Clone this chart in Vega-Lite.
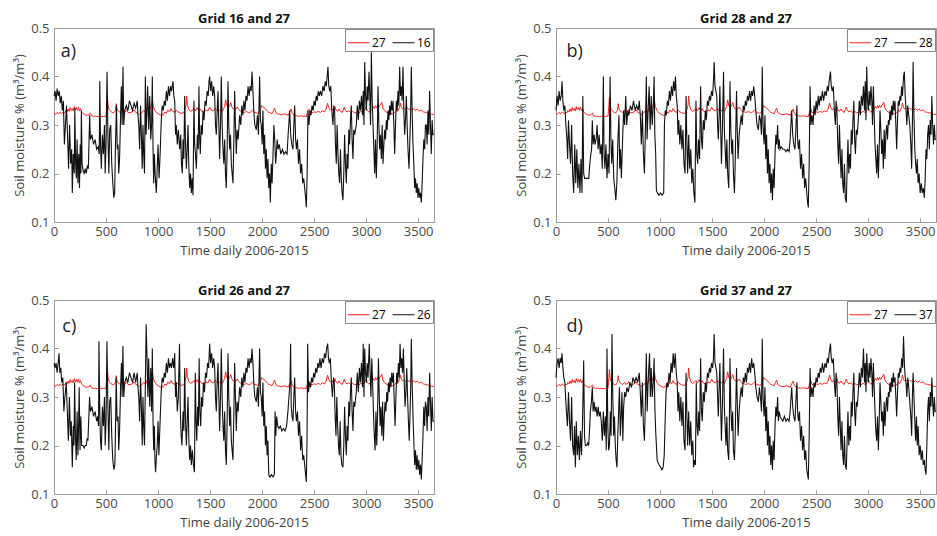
{
"$schema": "https://vega.github.io/schema/vega-lite/v6.json",
"padding": {"left": 13, "top": 12, "right": 0, "bottom": 0},
"config": {
 "font": "Open Sans",
 "view": {"stroke": "#9a9a9a"},
 "axis": {"grid": false, "domainColor": "#9a9a9a", "tickColor": "#9a9a9a", "tickSize": -4, "labelColor": "#4a4a4a", "labelFontSize": 13, "titleColor": "#404040", "titleFontSize": 13, "titleFontWeight": "normal", "labelFont": "Open Sans", "titleFont": "Open Sans"},
 "axisX": {"labelFlush": false, "labelPadding": 7, "titlePadding": 6, "format": "d"},
 "axisY": {"labelPadding": 9, "titlePadding": 4},
 "title": {"fontSize": 13, "fontWeight": "bold", "color": "#111111", "offset": -4, "font": "Open Sans"},
 "legend": {"title": null, "orient": "top-right", "direction": "horizontal", "symbolType": "stroke", "symbolSize": 480, "symbolStrokeWidth": 1, "labelFontSize": 12, "labelColor": "#000000", "strokeColor": "#888888", "fillColor": "#ffffff", "padding": 2, "offset": 1, "columnPadding": 4, "labelOffset": 2}
},
"datasets": {
"red": [{"t":0,"v":0.324},{"t":15,"v":0.322},{"t":30,"v":0.326},{"t":45,"v":0.323},{"t":60,"v":0.327},{"t":75,"v":0.324},{"t":90,"v":0.326},{"t":105,"v":0.325},{"t":115,"v":0.33},{"t":125,"v":0.327},{"t":135,"v":0.333},{"t":145,"v":0.328},{"t":155,"v":0.336},{"t":165,"v":0.33},{"t":175,"v":0.334},{"t":185,"v":0.329},{"t":195,"v":0.338},{"t":205,"v":0.331},{"t":215,"v":0.336},{"t":225,"v":0.33},{"t":235,"v":0.337},{"t":245,"v":0.329},{"t":255,"v":0.334},{"t":265,"v":0.327},{"t":280,"v":0.324},{"t":300,"v":0.321},{"t":320,"v":0.32},{"t":340,"v":0.322},{"t":350,"v":0.325},{"t":360,"v":0.319},{"t":380,"v":0.318},{"t":400,"v":0.318},{"t":420,"v":0.317},{"t":440,"v":0.318},{"t":460,"v":0.317},{"t":480,"v":0.318},{"t":500,"v":0.318},{"t":508,"v":0.34},{"t":513,"v":0.357},{"t":520,"v":0.34},{"t":530,"v":0.332},{"t":545,"v":0.328},{"t":560,"v":0.326},{"t":575,"v":0.325},{"t":590,"v":0.33},{"t":598,"v":0.344},{"t":606,"v":0.333},{"t":620,"v":0.328},{"t":640,"v":0.326},{"t":660,"v":0.33},{"t":670,"v":0.326},{"t":690,"v":0.328},{"t":700,"v":0.332},{"t":710,"v":0.326},{"t":730,"v":0.325},{"t":750,"v":0.327},{"t":770,"v":0.331},{"t":785,"v":0.326},{"t":800,"v":0.325},{"t":820,"v":0.322},{"t":840,"v":0.324},{"t":860,"v":0.33},{"t":880,"v":0.326},{"t":900,"v":0.338},{"t":910,"v":0.332},{"t":925,"v":0.334},{"t":940,"v":0.345},{"t":946,"v":0.351},{"t":955,"v":0.338},{"t":970,"v":0.33},{"t":990,"v":0.325},{"t":1010,"v":0.322},{"t":1030,"v":0.32},{"t":1050,"v":0.321},{"t":1065,"v":0.327},{"t":1080,"v":0.324},{"t":1095,"v":0.331},{"t":1110,"v":0.327},{"t":1125,"v":0.334},{"t":1140,"v":0.328},{"t":1160,"v":0.326},{"t":1175,"v":0.331},{"t":1190,"v":0.327},{"t":1210,"v":0.325},{"t":1230,"v":0.324},{"t":1250,"v":0.326},{"t":1268,"v":0.34},{"t":1275,"v":0.36},{"t":1282,"v":0.342},{"t":1295,"v":0.332},{"t":1310,"v":0.328},{"t":1330,"v":0.33},{"t":1345,"v":0.334},{"t":1360,"v":0.329},{"t":1375,"v":0.336},{"t":1390,"v":0.33},{"t":1405,"v":0.333},{"t":1420,"v":0.328},{"t":1440,"v":0.327},{"t":1460,"v":0.331},{"t":1480,"v":0.329},{"t":1496,"v":0.337},{"t":1510,"v":0.331},{"t":1530,"v":0.329},{"t":1550,"v":0.334},{"t":1565,"v":0.33},{"t":1580,"v":0.328},{"t":1600,"v":0.331},{"t":1620,"v":0.329},{"t":1640,"v":0.338},{"t":1650,"v":0.352},{"t":1660,"v":0.34},{"t":1675,"v":0.336},{"t":1690,"v":0.341},{"t":1700,"v":0.346},{"t":1710,"v":0.337},{"t":1725,"v":0.333},{"t":1740,"v":0.331},{"t":1760,"v":0.337},{"t":1775,"v":0.332},{"t":1790,"v":0.329},{"t":1810,"v":0.327},{"t":1830,"v":0.326},{"t":1850,"v":0.328},{"t":1870,"v":0.325},{"t":1890,"v":0.327},{"t":1910,"v":0.331},{"t":1925,"v":0.326},{"t":1945,"v":0.325},{"t":1965,"v":0.324},{"t":1985,"v":0.333},{"t":1995,"v":0.34},{"t":2005,"v":0.338},{"t":2020,"v":0.336},{"t":2035,"v":0.332},{"t":2050,"v":0.329},{"t":2065,"v":0.326},{"t":2080,"v":0.325},{"t":2095,"v":0.323},{"t":2110,"v":0.33},{"t":2120,"v":0.335},{"t":2130,"v":0.326},{"t":2150,"v":0.323},{"t":2170,"v":0.322},{"t":2190,"v":0.321},{"t":2210,"v":0.323},{"t":2230,"v":0.322},{"t":2250,"v":0.32},{"t":2270,"v":0.329},{"t":2280,"v":0.333},{"t":2290,"v":0.324},{"t":2310,"v":0.32},{"t":2330,"v":0.319},{"t":2350,"v":0.318},{"t":2370,"v":0.319},{"t":2390,"v":0.318},{"t":2410,"v":0.318},{"t":2425,"v":0.317},{"t":2440,"v":0.33},{"t":2450,"v":0.333},{"t":2460,"v":0.326},{"t":2480,"v":0.325},{"t":2500,"v":0.327},{"t":2520,"v":0.326},{"t":2540,"v":0.328},{"t":2560,"v":0.326},{"t":2580,"v":0.329},{"t":2600,"v":0.327},{"t":2615,"v":0.333},{"t":2630,"v":0.345},{"t":2640,"v":0.336},{"t":2655,"v":0.331},{"t":2670,"v":0.334},{"t":2685,"v":0.329},{"t":2700,"v":0.338},{"t":2710,"v":0.331},{"t":2725,"v":0.328},{"t":2740,"v":0.333},{"t":2755,"v":0.328},{"t":2770,"v":0.326},{"t":2790,"v":0.337},{"t":2800,"v":0.33},{"t":2815,"v":0.327},{"t":2830,"v":0.329},{"t":2850,"v":0.326},{"t":2870,"v":0.328},{"t":2890,"v":0.325},{"t":2910,"v":0.327},{"t":2930,"v":0.325},{"t":2950,"v":0.328},{"t":2970,"v":0.326},{"t":2990,"v":0.333},{"t":3000,"v":0.337},{"t":3010,"v":0.33},{"t":3025,"v":0.327},{"t":3040,"v":0.328},{"t":3055,"v":0.332},{"t":3070,"v":0.338},{"t":3080,"v":0.334},{"t":3090,"v":0.34},{"t":3100,"v":0.335},{"t":3110,"v":0.341},{"t":3120,"v":0.336},{"t":3130,"v":0.34},{"t":3140,"v":0.343},{"t":3150,"v":0.347},{"t":3160,"v":0.335},{"t":3175,"v":0.33},{"t":3190,"v":0.327},{"t":3210,"v":0.325},{"t":3230,"v":0.324},{"t":3250,"v":0.323},{"t":3270,"v":0.325},{"t":3290,"v":0.33},{"t":3305,"v":0.328},{"t":3320,"v":0.336},{"t":3330,"v":0.345},{"t":3340,"v":0.336},{"t":3350,"v":0.333},{"t":3365,"v":0.335},{"t":3380,"v":0.332},{"t":3395,"v":0.335},{"t":3410,"v":0.332},{"t":3425,"v":0.334},{"t":3440,"v":0.331},{"t":3455,"v":0.334},{"t":3470,"v":0.33},{"t":3490,"v":0.333},{"t":3510,"v":0.329},{"t":3530,"v":0.331},{"t":3550,"v":0.327},{"t":3570,"v":0.326},{"t":3590,"v":0.325},{"t":3610,"v":0.324},{"t":3630,"v":0.322},{"t":3652,"v":0.322}],
"g16": [{"t":0,"v":0.36},{"t":10,"v":0.37},{"t":20,"v":0.35},{"t":30,"v":0.375},{"t":40,"v":0.36},{"t":50,"v":0.37},{"t":60,"v":0.345},{"t":70,"v":0.36},{"t":80,"v":0.33},{"t":90,"v":0.35},{"t":100,"v":0.26},{"t":110,"v":0.30},{"t":120,"v":0.34},{"t":130,"v":0.28},{"t":140,"v":0.21},{"t":150,"v":0.30},{"t":160,"v":0.22},{"t":170,"v":0.25},{"t":176,"v":0.16},{"t":185,"v":0.24},{"t":195,"v":0.20},{"t":200,"v":0.335},{"t":208,"v":0.22},{"t":215,"v":0.19},{"t":222,"v":0.27},{"t":230,"v":0.18},{"t":238,"v":0.24},{"t":245,"v":0.17},{"t":252,"v":0.26},{"t":258,"v":0.20},{"t":263,"v":0.33},{"t":270,"v":0.22},{"t":280,"v":0.205},{"t":290,"v":0.20},{"t":300,"v":0.21},{"t":310,"v":0.20},{"t":320,"v":0.215},{"t":330,"v":0.21},{"t":343,"v":0.32},{"t":350,"v":0.27},{"t":365,"v":0.28},{"t":380,"v":0.26},{"t":395,"v":0.27},{"t":410,"v":0.25},{"t":425,"v":0.255},{"t":435,"v":0.24},{"t":440,"v":0.39},{"t":447,"v":0.26},{"t":455,"v":0.21},{"t":465,"v":0.28},{"t":475,"v":0.24},{"t":485,"v":0.30},{"t":492,"v":0.20},{"t":500,"v":0.26},{"t":510,"v":0.41},{"t":518,"v":0.28},{"t":527,"v":0.20},{"t":535,"v":0.29},{"t":545,"v":0.30},{"t":555,"v":0.22},{"t":565,"v":0.18},{"t":575,"v":0.15},{"t":583,"v":0.16},{"t":590,"v":0.25},{"t":600,"v":0.34},{"t":608,"v":0.25},{"t":615,"v":0.26},{"t":622,"v":0.20},{"t":630,"v":0.23},{"t":640,"v":0.32},{"t":647,"v":0.38},{"t":655,"v":0.30},{"t":663,"v":0.42},{"t":670,"v":0.30},{"t":680,"v":0.33},{"t":695,"v":0.34},{"t":710,"v":0.33},{"t":725,"v":0.35},{"t":740,"v":0.34},{"t":755,"v":0.33},{"t":770,"v":0.345},{"t":785,"v":0.335},{"t":800,"v":0.35},{"t":807,"v":0.32},{"t":815,"v":0.30},{"t":823,"v":0.25},{"t":832,"v":0.34},{"t":840,"v":0.28},{"t":848,"v":0.21},{"t":855,"v":0.30},{"t":862,"v":0.24},{"t":870,"v":0.20},{"t":878,"v":0.40},{"t":885,"v":0.28},{"t":893,"v":0.33},{"t":900,"v":0.38},{"t":910,"v":0.29},{"t":920,"v":0.36},{"t":930,"v":0.27},{"t":938,"v":0.30},{"t":945,"v":0.40},{"t":952,"v":0.25},{"t":958,"v":0.18},{"t":965,"v":0.24},{"t":972,"v":0.20},{"t":983,"v":0.16},{"t":992,"v":0.21},{"t":1000,"v":0.26},{"t":1010,"v":0.19},{"t":1020,"v":0.24},{"t":1031,"v":0.31},{"t":1040,"v":0.34},{"t":1050,"v":0.33},{"t":1060,"v":0.35},{"t":1070,"v":0.34},{"t":1080,"v":0.37},{"t":1090,"v":0.35},{"t":1100,"v":0.38},{"t":1110,"v":0.36},{"t":1120,"v":0.38},{"t":1130,"v":0.37},{"t":1143,"v":0.39},{"t":1152,"v":0.36},{"t":1160,"v":0.35},{"t":1168,"v":0.28},{"t":1175,"v":0.30},{"t":1185,"v":0.26},{"t":1195,"v":0.29},{"t":1208,"v":0.25},{"t":1218,"v":0.28},{"t":1225,"v":0.22},{"t":1233,"v":0.20},{"t":1240,"v":0.27},{"t":1248,"v":0.23},{"t":1256,"v":0.36},{"t":1264,"v":0.26},{"t":1272,"v":0.21},{"t":1280,"v":0.25},{"t":1288,"v":0.30},{"t":1295,"v":0.22},{"t":1304,"v":0.17},{"t":1312,"v":0.20},{"t":1320,"v":0.16},{"t":1328,"v":0.19},{"t":1336,"v":0.155},{"t":1345,"v":0.35},{"t":1352,"v":0.26},{"t":1360,"v":0.24},{"t":1368,"v":0.21},{"t":1378,"v":0.28},{"t":1386,"v":0.25},{"t":1393,"v":0.38},{"t":1400,"v":0.27},{"t":1406,"v":0.24},{"t":1415,"v":0.30},{"t":1425,"v":0.28},{"t":1432,"v":0.33},{"t":1442,"v":0.31},{"t":1452,"v":0.35},{"t":1462,"v":0.34},{"t":1472,"v":0.37},{"t":1482,"v":0.36},{"t":1490,"v":0.39},{"t":1496,"v":0.40},{"t":1505,"v":0.37},{"t":1515,"v":0.39},{"t":1525,"v":0.36},{"t":1535,"v":0.38},{"t":1544,"v":0.36},{"t":1552,"v":0.30},{"t":1560,"v":0.28},{"t":1568,"v":0.33},{"t":1576,"v":0.37},{"t":1584,"v":0.30},{"t":1592,"v":0.23},{"t":1600,"v":0.30},{"t":1608,"v":0.40},{"t":1616,"v":0.30},{"t":1624,"v":0.25},{"t":1632,"v":0.22},{"t":1640,"v":0.27},{"t":1648,"v":0.20},{"t":1656,"v":0.17},{"t":1664,"v":0.25},{"t":1672,"v":0.39},{"t":1680,"v":0.30},{"t":1688,"v":0.25},{"t":1696,"v":0.28},{"t":1704,"v":0.22},{"t":1712,"v":0.20},{"t":1720,"v":0.18},{"t":1728,"v":0.26},{"t":1736,"v":0.37},{"t":1744,"v":0.30},{"t":1752,"v":0.24},{"t":1760,"v":0.29},{"t":1770,"v":0.27},{"t":1784,"v":0.32},{"t":1795,"v":0.30},{"t":1805,"v":0.34},{"t":1815,"v":0.32},{"t":1825,"v":0.35},{"t":1835,"v":0.33},{"t":1845,"v":0.36},{"t":1855,"v":0.35},{"t":1865,"v":0.38},{"t":1875,"v":0.36},{"t":1885,"v":0.38},{"t":1895,"v":0.37},{"t":1903,"v":0.41},{"t":1912,"v":0.37},{"t":1920,"v":0.33},{"t":1930,"v":0.30},{"t":1944,"v":0.29},{"t":1955,"v":0.32},{"t":1965,"v":0.28},{"t":1976,"v":0.40},{"t":1984,"v":0.31},{"t":1992,"v":0.30},{"t":2000,"v":0.26},{"t":2008,"v":0.33},{"t":2016,"v":0.24},{"t":2024,"v":0.28},{"t":2032,"v":0.21},{"t":2040,"v":0.25},{"t":2048,"v":0.19},{"t":2056,"v":0.23},{"t":2064,"v":0.17},{"t":2072,"v":0.20},{"t":2079,"v":0.14},{"t":2088,"v":0.22},{"t":2096,"v":0.18},{"t":2105,"v":0.24},{"t":2113,"v":0.30},{"t":2121,"v":0.27},{"t":2130,"v":0.22},{"t":2137,"v":0.24},{"t":2145,"v":0.27},{"t":2153,"v":0.25},{"t":2165,"v":0.26},{"t":2180,"v":0.24},{"t":2195,"v":0.25},{"t":2210,"v":0.24},{"t":2225,"v":0.245},{"t":2240,"v":0.24},{"t":2250,"v":0.28},{"t":2265,"v":0.33},{"t":2275,"v":0.28},{"t":2285,"v":0.26},{"t":2297,"v":0.25},{"t":2305,"v":0.30},{"t":2313,"v":0.34},{"t":2322,"v":0.27},{"t":2330,"v":0.25},{"t":2340,"v":0.27},{"t":2350,"v":0.22},{"t":2360,"v":0.25},{"t":2370,"v":0.20},{"t":2380,"v":0.22},{"t":2390,"v":0.18},{"t":2400,"v":0.19},{"t":2409,"v":0.17},{"t":2418,"v":0.15},{"t":2425,"v":0.13},{"t":2433,"v":0.20},{"t":2441,"v":0.33},{"t":2450,"v":0.30},{"t":2460,"v":0.33},{"t":2470,"v":0.32},{"t":2480,"v":0.34},{"t":2490,"v":0.33},{"t":2500,"v":0.35},{"t":2510,"v":0.34},{"t":2520,"v":0.36},{"t":2530,"v":0.35},{"t":2540,"v":0.37},{"t":2550,"v":0.36},{"t":2560,"v":0.37},{"t":2572,"v":0.36},{"t":2585,"v":0.38},{"t":2597,"v":0.37},{"t":2607,"v":0.39},{"t":2617,"v":0.38},{"t":2625,"v":0.40},{"t":2633,"v":0.42},{"t":2641,"v":0.38},{"t":2650,"v":0.37},{"t":2660,"v":0.38},{"t":2670,"v":0.33},{"t":2681,"v":0.30},{"t":2689,"v":0.34},{"t":2697,"v":0.33},{"t":2705,"v":0.26},{"t":2713,"v":0.22},{"t":2721,"v":0.30},{"t":2729,"v":0.24},{"t":2737,"v":0.20},{"t":2745,"v":0.18},{"t":2753,"v":0.25},{"t":2761,"v":0.19},{"t":2769,"v":0.16},{"t":2777,"v":0.145},{"t":2785,"v":0.20},{"t":2793,"v":0.28},{"t":2801,"v":0.22},{"t":2809,"v":0.18},{"t":2817,"v":0.24},{"t":2825,"v":0.21},{"t":2833,"v":0.29},{"t":2841,"v":0.26},{"t":2849,"v":0.31},{"t":2857,"v":0.34},{"t":2865,"v":0.27},{"t":2873,"v":0.23},{"t":2881,"v":0.29},{"t":2890,"v":0.28},{"t":2905,"v":0.30},{"t":2915,"v":0.34},{"t":2925,"v":0.31},{"t":2935,"v":0.35},{"t":2945,"v":0.33},{"t":2955,"v":0.36},{"t":2965,"v":0.32},{"t":2972,"v":0.37},{"t":2979,"v":0.30},{"t":2986,"v":0.43},{"t":2994,"v":0.36},{"t":3002,"v":0.33},{"t":3010,"v":0.38},{"t":3018,"v":0.35},{"t":3027,"v":0.41},{"t":3035,"v":0.36},{"t":3042,"v":0.30},{"t":3050,"v":0.45},{"t":3058,"v":0.35},{"t":3066,"v":0.30},{"t":3074,"v":0.25},{"t":3082,"v":0.20},{"t":3090,"v":0.27},{"t":3098,"v":0.19},{"t":3106,"v":0.26},{"t":3114,"v":0.38},{"t":3122,"v":0.30},{"t":3130,"v":0.25},{"t":3138,"v":0.28},{"t":3146,"v":0.23},{"t":3154,"v":0.30},{"t":3162,"v":0.22},{"t":3170,"v":0.26},{"t":3178,"v":0.29},{"t":3186,"v":0.27},{"t":3194,"v":0.31},{"t":3202,"v":0.29},{"t":3210,"v":0.33},{"t":3218,"v":0.31},{"t":3226,"v":0.34},{"t":3234,"v":0.32},{"t":3242,"v":0.35},{"t":3250,"v":0.33},{"t":3258,"v":0.35},{"t":3266,"v":0.30},{"t":3274,"v":0.24},{"t":3282,"v":0.30},{"t":3290,"v":0.35},{"t":3298,"v":0.33},{"t":3306,"v":0.37},{"t":3314,"v":0.34},{"t":3322,"v":0.42},{"t":3330,"v":0.36},{"t":3338,"v":0.38},{"t":3346,"v":0.35},{"t":3354,"v":0.42},{"t":3362,"v":0.33},{"t":3370,"v":0.28},{"t":3378,"v":0.31},{"t":3386,"v":0.36},{"t":3394,"v":0.30},{"t":3402,"v":0.25},{"t":3412,"v":0.21},{"t":3420,"v":0.27},{"t":3427,"v":0.32},{"t":3434,"v":0.42},{"t":3442,"v":0.33},{"t":3450,"v":0.26},{"t":3458,"v":0.22},{"t":3466,"v":0.17},{"t":3474,"v":0.19},{"t":3482,"v":0.16},{"t":3490,"v":0.18},{"t":3498,"v":0.15},{"t":3506,"v":0.17},{"t":3514,"v":0.15},{"t":3522,"v":0.16},{"t":3530,"v":0.14},{"t":3538,"v":0.18},{"t":3546,"v":0.23},{"t":3554,"v":0.27},{"t":3562,"v":0.25},{"t":3570,"v":0.30},{"t":3578,"v":0.30},{"t":3586,"v":0.26},{"t":3594,"v":0.33},{"t":3602,"v":0.28},{"t":3610,"v":0.37},{"t":3618,"v":0.30},{"t":3626,"v":0.24},{"t":3634,"v":0.31},{"t":3642,"v":0.28},{"t":3652,"v":0.28}],
"g28": [{"t":0,"v":0.33},{"t":10,"v":0.36},{"t":20,"v":0.34},{"t":30,"v":0.37},{"t":40,"v":0.35},{"t":50,"v":0.36},{"t":58,"v":0.39},{"t":66,"v":0.35},{"t":75,"v":0.33},{"t":85,"v":0.34},{"t":95,"v":0.30},{"t":105,"v":0.27},{"t":112,"v":0.23},{"t":120,"v":0.31},{"t":130,"v":0.26},{"t":140,"v":0.22},{"t":150,"v":0.30},{"t":160,"v":0.20},{"t":170,"v":0.16},{"t":180,"v":0.26},{"t":190,"v":0.18},{"t":200,"v":0.25},{"t":210,"v":0.17},{"t":220,"v":0.22},{"t":230,"v":0.16},{"t":240,"v":0.23},{"t":250,"v":0.16},{"t":258,"v":0.36},{"t":266,"v":0.20},{"t":275,"v":0.19},{"t":285,"v":0.19},{"t":300,"v":0.19},{"t":315,"v":0.19},{"t":325,"v":0.22},{"t":335,"v":0.24},{"t":342,"v":0.25},{"t":349,"v":0.31},{"t":357,"v":0.26},{"t":366,"v":0.28},{"t":375,"v":0.26},{"t":385,"v":0.27},{"t":395,"v":0.30},{"t":405,"v":0.25},{"t":415,"v":0.28},{"t":425,"v":0.24},{"t":435,"v":0.26},{"t":445,"v":0.21},{"t":455,"v":0.40},{"t":462,"v":0.24},{"t":470,"v":0.21},{"t":480,"v":0.26},{"t":490,"v":0.19},{"t":500,"v":0.24},{"t":510,"v":0.20},{"t":520,"v":0.40},{"t":528,"v":0.27},{"t":535,"v":0.22},{"t":545,"v":0.27},{"t":555,"v":0.19},{"t":565,"v":0.17},{"t":575,"v":0.145},{"t":585,"v":0.18},{"t":595,"v":0.27},{"t":605,"v":0.32},{"t":612,"v":0.21},{"t":620,"v":0.25},{"t":628,"v":0.19},{"t":640,"v":0.27},{"t":650,"v":0.33},{"t":660,"v":0.30},{"t":670,"v":0.36},{"t":680,"v":0.30},{"t":690,"v":0.33},{"t":700,"v":0.32},{"t":715,"v":0.34},{"t":730,"v":0.33},{"t":745,"v":0.35},{"t":760,"v":0.33},{"t":775,"v":0.34},{"t":790,"v":0.33},{"t":800,"v":0.35},{"t":810,"v":0.32},{"t":820,"v":0.26},{"t":830,"v":0.33},{"t":840,"v":0.24},{"t":850,"v":0.20},{"t":860,"v":0.30},{"t":868,"v":0.40},{"t":875,"v":0.27},{"t":885,"v":0.33},{"t":895,"v":0.38},{"t":905,"v":0.29},{"t":915,"v":0.36},{"t":925,"v":0.30},{"t":935,"v":0.34},{"t":943,"v":0.40},{"t":950,"v":0.28},{"t":958,"v":0.24},{"t":965,"v":0.165},{"t":975,"v":0.16},{"t":990,"v":0.155},{"t":1005,"v":0.16},{"t":1020,"v":0.155},{"t":1035,"v":0.16},{"t":1042,"v":0.30},{"t":1050,"v":0.33},{"t":1060,"v":0.32},{"t":1070,"v":0.35},{"t":1080,"v":0.34},{"t":1090,"v":0.37},{"t":1100,"v":0.35},{"t":1110,"v":0.38},{"t":1120,"v":0.36},{"t":1130,"v":0.39},{"t":1140,"v":0.37},{"t":1148,"v":0.40},{"t":1156,"v":0.36},{"t":1165,"v":0.34},{"t":1172,"v":0.28},{"t":1180,"v":0.31},{"t":1190,"v":0.26},{"t":1200,"v":0.30},{"t":1210,"v":0.25},{"t":1220,"v":0.29},{"t":1230,"v":0.22},{"t":1240,"v":0.20},{"t":1250,"v":0.36},{"t":1258,"v":0.26},{"t":1265,"v":0.20},{"t":1275,"v":0.28},{"t":1285,"v":0.21},{"t":1295,"v":0.25},{"t":1305,"v":0.18},{"t":1315,"v":0.21},{"t":1325,"v":0.16},{"t":1335,"v":0.14},{"t":1345,"v":0.35},{"t":1353,"v":0.24},{"t":1362,"v":0.22},{"t":1370,"v":0.27},{"t":1380,"v":0.23},{"t":1390,"v":0.38},{"t":1398,"v":0.27},{"t":1406,"v":0.25},{"t":1415,"v":0.31},{"t":1425,"v":0.29},{"t":1435,"v":0.33},{"t":1445,"v":0.31},{"t":1455,"v":0.35},{"t":1465,"v":0.34},{"t":1475,"v":0.36},{"t":1485,"v":0.35},{"t":1495,"v":0.37},{"t":1505,"v":0.36},{"t":1513,"v":0.39},{"t":1520,"v":0.43},{"t":1528,"v":0.38},{"t":1537,"v":0.37},{"t":1545,"v":0.36},{"t":1553,"v":0.30},{"t":1560,"v":0.27},{"t":1568,"v":0.32},{"t":1575,"v":0.38},{"t":1583,"v":0.29},{"t":1590,"v":0.22},{"t":1600,"v":0.30},{"t":1610,"v":0.41},{"t":1618,"v":0.29},{"t":1626,"v":0.25},{"t":1634,"v":0.21},{"t":1642,"v":0.27},{"t":1650,"v":0.20},{"t":1660,"v":0.17},{"t":1666,"v":0.25},{"t":1672,"v":0.39},{"t":1680,"v":0.29},{"t":1690,"v":0.24},{"t":1698,"v":0.27},{"t":1705,"v":0.20},{"t":1715,"v":0.16},{"t":1722,"v":0.22},{"t":1735,"v":0.37},{"t":1742,"v":0.29},{"t":1750,"v":0.23},{"t":1760,"v":0.28},{"t":1770,"v":0.30},{"t":1780,"v":0.32},{"t":1790,"v":0.30},{"t":1800,"v":0.34},{"t":1810,"v":0.33},{"t":1820,"v":0.35},{"t":1830,"v":0.34},{"t":1840,"v":0.36},{"t":1850,"v":0.35},{"t":1860,"v":0.37},{"t":1870,"v":0.35},{"t":1880,"v":0.37},{"t":1890,"v":0.36},{"t":1900,"v":0.38},{"t":1910,"v":0.36},{"t":1920,"v":0.33},{"t":1932,"v":0.30},{"t":1945,"v":0.29},{"t":1955,"v":0.32},{"t":1965,"v":0.31},{"t":1975,"v":0.28},{"t":1982,"v":0.42},{"t":1990,"v":0.30},{"t":2000,"v":0.26},{"t":2008,"v":0.32},{"t":2016,"v":0.23},{"t":2024,"v":0.28},{"t":2032,"v":0.20},{"t":2040,"v":0.25},{"t":2048,"v":0.18},{"t":2056,"v":0.22},{"t":2064,"v":0.16},{"t":2072,"v":0.20},{"t":2080,"v":0.145},{"t":2088,"v":0.21},{"t":2096,"v":0.17},{"t":2105,"v":0.24},{"t":2113,"v":0.28},{"t":2121,"v":0.26},{"t":2130,"v":0.30},{"t":2137,"v":0.25},{"t":2145,"v":0.27},{"t":2153,"v":0.25},{"t":2165,"v":0.255},{"t":2180,"v":0.25},{"t":2195,"v":0.25},{"t":2210,"v":0.245},{"t":2225,"v":0.25},{"t":2240,"v":0.245},{"t":2250,"v":0.27},{"t":2265,"v":0.33},{"t":2275,"v":0.28},{"t":2285,"v":0.26},{"t":2297,"v":0.25},{"t":2305,"v":0.29},{"t":2315,"v":0.34},{"t":2322,"v":0.27},{"t":2330,"v":0.25},{"t":2340,"v":0.27},{"t":2350,"v":0.21},{"t":2360,"v":0.24},{"t":2370,"v":0.19},{"t":2380,"v":0.22},{"t":2390,"v":0.17},{"t":2400,"v":0.19},{"t":2410,"v":0.16},{"t":2418,"v":0.14},{"t":2425,"v":0.13},{"t":2433,"v":0.22},{"t":2442,"v":0.38},{"t":2450,"v":0.30},{"t":2460,"v":0.32},{"t":2470,"v":0.30},{"t":2480,"v":0.34},{"t":2490,"v":0.32},{"t":2500,"v":0.35},{"t":2510,"v":0.33},{"t":2520,"v":0.36},{"t":2530,"v":0.34},{"t":2540,"v":0.36},{"t":2550,"v":0.35},{"t":2560,"v":0.37},{"t":2572,"v":0.35},{"t":2585,"v":0.37},{"t":2597,"v":0.36},{"t":2607,"v":0.38},{"t":2617,"v":0.37},{"t":2625,"v":0.39},{"t":2638,"v":0.41},{"t":2645,"v":0.38},{"t":2655,"v":0.37},{"t":2665,"v":0.38},{"t":2675,"v":0.33},{"t":2685,"v":0.30},{"t":2692,"v":0.35},{"t":2700,"v":0.33},{"t":2708,"v":0.26},{"t":2716,"v":0.22},{"t":2724,"v":0.30},{"t":2732,"v":0.24},{"t":2740,"v":0.19},{"t":2748,"v":0.25},{"t":2756,"v":0.18},{"t":2764,"v":0.16},{"t":2772,"v":0.22},{"t":2780,"v":0.15},{"t":2790,"v":0.14},{"t":2798,"v":0.21},{"t":2806,"v":0.27},{"t":2814,"v":0.20},{"t":2822,"v":0.24},{"t":2830,"v":0.21},{"t":2838,"v":0.29},{"t":2846,"v":0.26},{"t":2854,"v":0.31},{"t":2862,"v":0.35},{"t":2870,"v":0.27},{"t":2878,"v":0.24},{"t":2886,"v":0.29},{"t":2895,"v":0.28},{"t":2905,"v":0.31},{"t":2915,"v":0.35},{"t":2925,"v":0.32},{"t":2935,"v":0.36},{"t":2945,"v":0.34},{"t":2955,"v":0.38},{"t":2965,"v":0.33},{"t":2972,"v":0.39},{"t":2979,"v":0.31},{"t":2986,"v":0.42},{"t":2994,"v":0.35},{"t":3002,"v":0.33},{"t":3010,"v":0.37},{"t":3018,"v":0.34},{"t":3027,"v":0.38},{"t":3035,"v":0.35},{"t":3042,"v":0.30},{"t":3050,"v":0.38},{"t":3058,"v":0.32},{"t":3066,"v":0.26},{"t":3074,"v":0.23},{"t":3082,"v":0.20},{"t":3090,"v":0.26},{"t":3098,"v":0.19},{"t":3106,"v":0.25},{"t":3114,"v":0.33},{"t":3122,"v":0.29},{"t":3130,"v":0.24},{"t":3138,"v":0.27},{"t":3146,"v":0.21},{"t":3154,"v":0.29},{"t":3162,"v":0.23},{"t":3170,"v":0.28},{"t":3178,"v":0.30},{"t":3186,"v":0.27},{"t":3194,"v":0.31},{"t":3202,"v":0.30},{"t":3210,"v":0.33},{"t":3218,"v":0.31},{"t":3226,"v":0.34},{"t":3234,"v":0.32},{"t":3242,"v":0.35},{"t":3250,"v":0.33},{"t":3258,"v":0.35},{"t":3266,"v":0.30},{"t":3274,"v":0.25},{"t":3282,"v":0.31},{"t":3290,"v":0.35},{"t":3298,"v":0.34},{"t":3306,"v":0.36},{"t":3314,"v":0.35},{"t":3322,"v":0.38},{"t":3330,"v":0.36},{"t":3340,"v":0.40},{"t":3348,"v":0.41},{"t":3356,"v":0.36},{"t":3364,"v":0.33},{"t":3372,"v":0.30},{"t":3380,"v":0.34},{"t":3390,"v":0.32},{"t":3400,"v":0.30},{"t":3410,"v":0.26},{"t":3418,"v":0.21},{"t":3425,"v":0.30},{"t":3432,"v":0.43},{"t":3440,"v":0.32},{"t":3448,"v":0.25},{"t":3456,"v":0.22},{"t":3464,"v":0.20},{"t":3472,"v":0.23},{"t":3480,"v":0.18},{"t":3490,"v":0.20},{"t":3500,"v":0.16},{"t":3510,"v":0.18},{"t":3520,"v":0.16},{"t":3530,"v":0.17},{"t":3540,"v":0.15},{"t":3548,"v":0.19},{"t":3556,"v":0.25},{"t":3564,"v":0.23},{"t":3572,"v":0.28},{"t":3580,"v":0.30},{"t":3588,"v":0.25},{"t":3596,"v":0.31},{"t":3604,"v":0.28},{"t":3612,"v":0.36},{"t":3620,"v":0.30},{"t":3628,"v":0.26},{"t":3636,"v":0.30},{"t":3644,"v":0.27},{"t":3652,"v":0.27}],
"g26": [{"t":0,"v":0.37},{"t":10,"v":0.36},{"t":20,"v":0.37},{"t":30,"v":0.35},{"t":40,"v":0.37},{"t":48,"v":0.39},{"t":56,"v":0.35},{"t":65,"v":0.36},{"t":75,"v":0.33},{"t":85,"v":0.34},{"t":95,"v":0.27},{"t":105,"v":0.30},{"t":118,"v":0.33},{"t":128,"v":0.27},{"t":138,"v":0.21},{"t":148,"v":0.30},{"t":158,"v":0.22},{"t":166,"v":0.25},{"t":176,"v":0.155},{"t":185,"v":0.24},{"t":192,"v":0.20},{"t":198,"v":0.33},{"t":206,"v":0.22},{"t":214,"v":0.17},{"t":222,"v":0.27},{"t":230,"v":0.18},{"t":236,"v":0.24},{"t":242,"v":0.32},{"t":250,"v":0.19},{"t":258,"v":0.26},{"t":266,"v":0.20},{"t":278,"v":0.20},{"t":290,"v":0.195},{"t":300,"v":0.20},{"t":310,"v":0.20},{"t":318,"v":0.215},{"t":326,"v":0.21},{"t":342,"v":0.30},{"t":350,"v":0.27},{"t":365,"v":0.28},{"t":380,"v":0.26},{"t":395,"v":0.27},{"t":410,"v":0.25},{"t":420,"v":0.26},{"t":428,"v":0.24},{"t":432,"v":0.415},{"t":440,"v":0.27},{"t":447,"v":0.21},{"t":455,"v":0.19},{"t":465,"v":0.28},{"t":475,"v":0.24},{"t":485,"v":0.30},{"t":492,"v":0.20},{"t":500,"v":0.25},{"t":509,"v":0.415},{"t":518,"v":0.28},{"t":527,"v":0.19},{"t":535,"v":0.29},{"t":545,"v":0.30},{"t":555,"v":0.22},{"t":565,"v":0.17},{"t":576,"v":0.15},{"t":585,"v":0.16},{"t":592,"v":0.25},{"t":598,"v":0.34},{"t":606,"v":0.25},{"t":615,"v":0.26},{"t":622,"v":0.19},{"t":630,"v":0.23},{"t":640,"v":0.32},{"t":648,"v":0.37},{"t":655,"v":0.30},{"t":662,"v":0.405},{"t":670,"v":0.30},{"t":680,"v":0.33},{"t":695,"v":0.34},{"t":710,"v":0.33},{"t":725,"v":0.35},{"t":740,"v":0.34},{"t":755,"v":0.33},{"t":770,"v":0.35},{"t":785,"v":0.33},{"t":800,"v":0.35},{"t":807,"v":0.32},{"t":815,"v":0.30},{"t":823,"v":0.25},{"t":832,"v":0.34},{"t":840,"v":0.28},{"t":848,"v":0.20},{"t":855,"v":0.30},{"t":862,"v":0.24},{"t":870,"v":0.20},{"t":878,"v":0.33},{"t":886,"v":0.45},{"t":894,"v":0.38},{"t":902,"v":0.30},{"t":910,"v":0.38},{"t":920,"v":0.28},{"t":930,"v":0.36},{"t":938,"v":0.27},{"t":945,"v":0.40},{"t":952,"v":0.25},{"t":958,"v":0.19},{"t":965,"v":0.24},{"t":970,"v":0.17},{"t":976,"v":0.145},{"t":985,"v":0.18},{"t":992,"v":0.20},{"t":1000,"v":0.25},{"t":1008,"v":0.18},{"t":1018,"v":0.24},{"t":1030,"v":0.31},{"t":1040,"v":0.34},{"t":1050,"v":0.33},{"t":1060,"v":0.35},{"t":1070,"v":0.34},{"t":1080,"v":0.37},{"t":1090,"v":0.35},{"t":1100,"v":0.38},{"t":1110,"v":0.36},{"t":1120,"v":0.37},{"t":1130,"v":0.36},{"t":1140,"v":0.38},{"t":1150,"v":0.36},{"t":1160,"v":0.39},{"t":1168,"v":0.30},{"t":1175,"v":0.33},{"t":1185,"v":0.27},{"t":1195,"v":0.30},{"t":1206,"v":0.41},{"t":1214,"v":0.27},{"t":1222,"v":0.22},{"t":1230,"v":0.20},{"t":1240,"v":0.27},{"t":1248,"v":0.23},{"t":1256,"v":0.36},{"t":1264,"v":0.25},{"t":1272,"v":0.20},{"t":1280,"v":0.25},{"t":1288,"v":0.30},{"t":1296,"v":0.21},{"t":1304,"v":0.17},{"t":1312,"v":0.20},{"t":1320,"v":0.16},{"t":1330,"v":0.19},{"t":1340,"v":0.16},{"t":1350,"v":0.145},{"t":1358,"v":0.35},{"t":1365,"v":0.25},{"t":1372,"v":0.21},{"t":1380,"v":0.28},{"t":1388,"v":0.24},{"t":1395,"v":0.38},{"t":1402,"v":0.27},{"t":1410,"v":0.24},{"t":1418,"v":0.30},{"t":1428,"v":0.28},{"t":1436,"v":0.33},{"t":1446,"v":0.31},{"t":1456,"v":0.35},{"t":1466,"v":0.34},{"t":1476,"v":0.37},{"t":1486,"v":0.36},{"t":1496,"v":0.41},{"t":1505,"v":0.37},{"t":1515,"v":0.39},{"t":1525,"v":0.36},{"t":1535,"v":0.38},{"t":1544,"v":0.36},{"t":1552,"v":0.30},{"t":1560,"v":0.27},{"t":1568,"v":0.33},{"t":1576,"v":0.37},{"t":1584,"v":0.30},{"t":1592,"v":0.23},{"t":1600,"v":0.30},{"t":1608,"v":0.40},{"t":1616,"v":0.30},{"t":1624,"v":0.24},{"t":1632,"v":0.21},{"t":1640,"v":0.27},{"t":1648,"v":0.19},{"t":1656,"v":0.16},{"t":1664,"v":0.25},{"t":1672,"v":0.39},{"t":1680,"v":0.30},{"t":1688,"v":0.24},{"t":1696,"v":0.28},{"t":1704,"v":0.21},{"t":1712,"v":0.19},{"t":1720,"v":0.17},{"t":1728,"v":0.26},{"t":1736,"v":0.37},{"t":1744,"v":0.30},{"t":1752,"v":0.23},{"t":1760,"v":0.29},{"t":1770,"v":0.27},{"t":1784,"v":0.32},{"t":1795,"v":0.30},{"t":1805,"v":0.34},{"t":1815,"v":0.32},{"t":1825,"v":0.35},{"t":1835,"v":0.33},{"t":1845,"v":0.36},{"t":1855,"v":0.35},{"t":1865,"v":0.38},{"t":1875,"v":0.36},{"t":1885,"v":0.38},{"t":1895,"v":0.37},{"t":1903,"v":0.40},{"t":1912,"v":0.37},{"t":1920,"v":0.33},{"t":1930,"v":0.30},{"t":1944,"v":0.29},{"t":1955,"v":0.32},{"t":1965,"v":0.28},{"t":1976,"v":0.40},{"t":1984,"v":0.31},{"t":1992,"v":0.30},{"t":2000,"v":0.26},{"t":2008,"v":0.33},{"t":2016,"v":0.24},{"t":2024,"v":0.27},{"t":2032,"v":0.20},{"t":2040,"v":0.24},{"t":2048,"v":0.18},{"t":2056,"v":0.21},{"t":2064,"v":0.14},{"t":2075,"v":0.135},{"t":2090,"v":0.14},{"t":2105,"v":0.135},{"t":2118,"v":0.14},{"t":2125,"v":0.27},{"t":2132,"v":0.22},{"t":2140,"v":0.26},{"t":2150,"v":0.24},{"t":2162,"v":0.235},{"t":2175,"v":0.24},{"t":2190,"v":0.23},{"t":2205,"v":0.235},{"t":2220,"v":0.23},{"t":2235,"v":0.24},{"t":2248,"v":0.27},{"t":2258,"v":0.30},{"t":2268,"v":0.33},{"t":2274,"v":0.41},{"t":2280,"v":0.28},{"t":2288,"v":0.26},{"t":2297,"v":0.25},{"t":2305,"v":0.30},{"t":2313,"v":0.34},{"t":2322,"v":0.27},{"t":2330,"v":0.25},{"t":2340,"v":0.27},{"t":2350,"v":0.22},{"t":2360,"v":0.25},{"t":2370,"v":0.19},{"t":2380,"v":0.22},{"t":2390,"v":0.17},{"t":2400,"v":0.18},{"t":2409,"v":0.16},{"t":2418,"v":0.14},{"t":2425,"v":0.125},{"t":2432,"v":0.22},{"t":2438,"v":0.41},{"t":2446,"v":0.31},{"t":2456,"v":0.33},{"t":2466,"v":0.32},{"t":2476,"v":0.34},{"t":2486,"v":0.33},{"t":2496,"v":0.35},{"t":2506,"v":0.34},{"t":2516,"v":0.36},{"t":2526,"v":0.35},{"t":2536,"v":0.37},{"t":2546,"v":0.36},{"t":2556,"v":0.38},{"t":2566,"v":0.36},{"t":2578,"v":0.38},{"t":2590,"v":0.37},{"t":2600,"v":0.39},{"t":2610,"v":0.38},{"t":2620,"v":0.40},{"t":2630,"v":0.41},{"t":2638,"v":0.38},{"t":2646,"v":0.37},{"t":2656,"v":0.38},{"t":2666,"v":0.33},{"t":2676,"v":0.30},{"t":2686,"v":0.34},{"t":2694,"v":0.33},{"t":2702,"v":0.26},{"t":2710,"v":0.22},{"t":2718,"v":0.30},{"t":2726,"v":0.24},{"t":2734,"v":0.20},{"t":2742,"v":0.18},{"t":2750,"v":0.25},{"t":2758,"v":0.18},{"t":2766,"v":0.16},{"t":2777,"v":0.155},{"t":2785,"v":0.20},{"t":2793,"v":0.28},{"t":2801,"v":0.22},{"t":2809,"v":0.18},{"t":2817,"v":0.24},{"t":2825,"v":0.21},{"t":2833,"v":0.29},{"t":2841,"v":0.26},{"t":2849,"v":0.31},{"t":2857,"v":0.34},{"t":2865,"v":0.27},{"t":2873,"v":0.23},{"t":2881,"v":0.29},{"t":2890,"v":0.28},{"t":2905,"v":0.31},{"t":2915,"v":0.35},{"t":2925,"v":0.31},{"t":2935,"v":0.36},{"t":2945,"v":0.33},{"t":2955,"v":0.37},{"t":2965,"v":0.32},{"t":2972,"v":0.41},{"t":2979,"v":0.30},{"t":2986,"v":0.40},{"t":2994,"v":0.35},{"t":3002,"v":0.33},{"t":3010,"v":0.37},{"t":3018,"v":0.34},{"t":3030,"v":0.41},{"t":3038,"v":0.35},{"t":3046,"v":0.30},{"t":3054,"v":0.38},{"t":3062,"v":0.33},{"t":3070,"v":0.27},{"t":3078,"v":0.22},{"t":3086,"v":0.19},{"t":3094,"v":0.27},{"t":3102,"v":0.20},{"t":3110,"v":0.27},{"t":3118,"v":0.38},{"t":3126,"v":0.30},{"t":3134,"v":0.24},{"t":3142,"v":0.28},{"t":3150,"v":0.22},{"t":3158,"v":0.29},{"t":3166,"v":0.21},{"t":3174,"v":0.26},{"t":3182,"v":0.29},{"t":3190,"v":0.27},{"t":3198,"v":0.31},{"t":3206,"v":0.29},{"t":3214,"v":0.33},{"t":3222,"v":0.31},{"t":3230,"v":0.34},{"t":3238,"v":0.32},{"t":3246,"v":0.35},{"t":3254,"v":0.33},{"t":3262,"v":0.35},{"t":3270,"v":0.29},{"t":3278,"v":0.24},{"t":3286,"v":0.30},{"t":3294,"v":0.35},{"t":3302,"v":0.33},{"t":3310,"v":0.37},{"t":3318,"v":0.34},{"t":3326,"v":0.41},{"t":3334,"v":0.36},{"t":3342,"v":0.38},{"t":3350,"v":0.35},{"t":3358,"v":0.40},{"t":3366,"v":0.33},{"t":3374,"v":0.28},{"t":3382,"v":0.31},{"t":3390,"v":0.36},{"t":3398,"v":0.30},{"t":3406,"v":0.25},{"t":3414,"v":0.21},{"t":3422,"v":0.27},{"t":3428,"v":0.32},{"t":3434,"v":0.42},{"t":3442,"v":0.33},{"t":3450,"v":0.26},{"t":3458,"v":0.21},{"t":3466,"v":0.16},{"t":3474,"v":0.19},{"t":3482,"v":0.15},{"t":3490,"v":0.18},{"t":3498,"v":0.15},{"t":3506,"v":0.17},{"t":3514,"v":0.14},{"t":3522,"v":0.16},{"t":3530,"v":0.13},{"t":3538,"v":0.17},{"t":3546,"v":0.22},{"t":3554,"v":0.28},{"t":3562,"v":0.24},{"t":3570,"v":0.29},{"t":3578,"v":0.28},{"t":3586,"v":0.23},{"t":3594,"v":0.30},{"t":3602,"v":0.26},{"t":3610,"v":0.35},{"t":3618,"v":0.29},{"t":3626,"v":0.23},{"t":3634,"v":0.30},{"t":3642,"v":0.25},{"t":3652,"v":0.25}],
"g37": [{"t":0,"v":0.34},{"t":10,"v":0.37},{"t":20,"v":0.38},{"t":30,"v":0.36},{"t":40,"v":0.38},{"t":50,"v":0.37},{"t":58,"v":0.39},{"t":66,"v":0.36},{"t":75,"v":0.34},{"t":85,"v":0.33},{"t":92,"v":0.30},{"t":100,"v":0.27},{"t":110,"v":0.24},{"t":120,"v":0.31},{"t":130,"v":0.25},{"t":140,"v":0.21},{"t":150,"v":0.30},{"t":160,"v":0.20},{"t":170,"v":0.18},{"t":178,"v":0.24},{"t":186,"v":0.155},{"t":195,"v":0.25},{"t":205,"v":0.18},{"t":215,"v":0.22},{"t":225,"v":0.17},{"t":235,"v":0.23},{"t":245,"v":0.18},{"t":255,"v":0.25},{"t":266,"v":0.375},{"t":274,"v":0.22},{"t":282,"v":0.20},{"t":295,"v":0.20},{"t":305,"v":0.205},{"t":314,"v":0.20},{"t":322,"v":0.23},{"t":330,"v":0.27},{"t":340,"v":0.29},{"t":349,"v":0.32},{"t":357,"v":0.27},{"t":366,"v":0.29},{"t":375,"v":0.27},{"t":385,"v":0.28},{"t":395,"v":0.26},{"t":405,"v":0.28},{"t":415,"v":0.26},{"t":425,"v":0.27},{"t":435,"v":0.25},{"t":445,"v":0.21},{"t":455,"v":0.27},{"t":465,"v":0.22},{"t":475,"v":0.26},{"t":483,"v":0.19},{"t":490,"v":0.40},{"t":498,"v":0.24},{"t":506,"v":0.19},{"t":514,"v":0.20},{"t":522,"v":0.27},{"t":530,"v":0.22},{"t":538,"v":0.43},{"t":546,"v":0.30},{"t":554,"v":0.22},{"t":562,"v":0.26},{"t":570,"v":0.20},{"t":578,"v":0.17},{"t":586,"v":0.155},{"t":594,"v":0.22},{"t":602,"v":0.27},{"t":610,"v":0.32},{"t":618,"v":0.22},{"t":626,"v":0.26},{"t":634,"v":0.31},{"t":642,"v":0.21},{"t":650,"v":0.28},{"t":660,"v":0.31},{"t":670,"v":0.30},{"t":682,"v":0.32},{"t":695,"v":0.31},{"t":710,"v":0.33},{"t":725,"v":0.32},{"t":740,"v":0.34},{"t":755,"v":0.33},{"t":770,"v":0.34},{"t":785,"v":0.33},{"t":800,"v":0.35},{"t":810,"v":0.31},{"t":820,"v":0.26},{"t":830,"v":0.33},{"t":840,"v":0.24},{"t":850,"v":0.21},{"t":860,"v":0.30},{"t":868,"v":0.39},{"t":876,"v":0.27},{"t":885,"v":0.33},{"t":899,"v":0.39},{"t":907,"v":0.30},{"t":915,"v":0.36},{"t":925,"v":0.30},{"t":935,"v":0.33},{"t":943,"v":0.38},{"t":950,"v":0.28},{"t":958,"v":0.23},{"t":965,"v":0.20},{"t":972,"v":0.17},{"t":980,"v":0.165},{"t":992,"v":0.16},{"t":1005,"v":0.155},{"t":1018,"v":0.15},{"t":1030,"v":0.155},{"t":1040,"v":0.18},{"t":1050,"v":0.26},{"t":1058,"v":0.31},{"t":1066,"v":0.33},{"t":1076,"v":0.32},{"t":1086,"v":0.35},{"t":1096,"v":0.33},{"t":1106,"v":0.37},{"t":1116,"v":0.35},{"t":1126,"v":0.39},{"t":1136,"v":0.36},{"t":1146,"v":0.39},{"t":1156,"v":0.35},{"t":1165,"v":0.33},{"t":1172,"v":0.27},{"t":1180,"v":0.31},{"t":1190,"v":0.25},{"t":1200,"v":0.30},{"t":1210,"v":0.24},{"t":1220,"v":0.29},{"t":1230,"v":0.21},{"t":1240,"v":0.19},{"t":1250,"v":0.35},{"t":1258,"v":0.26},{"t":1265,"v":0.20},{"t":1275,"v":0.27},{"t":1285,"v":0.20},{"t":1295,"v":0.25},{"t":1305,"v":0.18},{"t":1315,"v":0.21},{"t":1322,"v":0.155},{"t":1332,"v":0.17},{"t":1340,"v":0.16},{"t":1348,"v":0.33},{"t":1356,"v":0.24},{"t":1364,"v":0.22},{"t":1372,"v":0.27},{"t":1380,"v":0.23},{"t":1390,"v":0.38},{"t":1398,"v":0.27},{"t":1406,"v":0.25},{"t":1415,"v":0.31},{"t":1425,"v":0.29},{"t":1435,"v":0.33},{"t":1445,"v":0.31},{"t":1455,"v":0.35},{"t":1465,"v":0.34},{"t":1475,"v":0.36},{"t":1485,"v":0.35},{"t":1495,"v":0.37},{"t":1505,"v":0.36},{"t":1513,"v":0.38},{"t":1520,"v":0.43},{"t":1528,"v":0.37},{"t":1537,"v":0.36},{"t":1545,"v":0.35},{"t":1553,"v":0.30},{"t":1560,"v":0.26},{"t":1568,"v":0.32},{"t":1575,"v":0.37},{"t":1583,"v":0.28},{"t":1590,"v":0.21},{"t":1600,"v":0.29},{"t":1610,"v":0.40},{"t":1618,"v":0.28},{"t":1626,"v":0.24},{"t":1634,"v":0.20},{"t":1642,"v":0.26},{"t":1650,"v":0.19},{"t":1660,"v":0.17},{"t":1666,"v":0.24},{"t":1672,"v":0.38},{"t":1680,"v":0.28},{"t":1690,"v":0.23},{"t":1698,"v":0.27},{"t":1705,"v":0.19},{"t":1715,"v":0.17},{"t":1722,"v":0.22},{"t":1735,"v":0.36},{"t":1742,"v":0.29},{"t":1750,"v":0.22},{"t":1760,"v":0.27},{"t":1770,"v":0.30},{"t":1780,"v":0.32},{"t":1790,"v":0.30},{"t":1800,"v":0.34},{"t":1810,"v":0.33},{"t":1820,"v":0.35},{"t":1830,"v":0.33},{"t":1840,"v":0.36},{"t":1850,"v":0.35},{"t":1860,"v":0.37},{"t":1870,"v":0.35},{"t":1880,"v":0.38},{"t":1890,"v":0.36},{"t":1900,"v":0.37},{"t":1910,"v":0.35},{"t":1920,"v":0.32},{"t":1932,"v":0.30},{"t":1945,"v":0.29},{"t":1955,"v":0.32},{"t":1965,"v":0.30},{"t":1975,"v":0.27},{"t":1982,"v":0.42},{"t":1990,"v":0.30},{"t":2000,"v":0.26},{"t":2008,"v":0.32},{"t":2016,"v":0.23},{"t":2024,"v":0.28},{"t":2032,"v":0.20},{"t":2040,"v":0.25},{"t":2048,"v":0.18},{"t":2056,"v":0.22},{"t":2064,"v":0.16},{"t":2072,"v":0.20},{"t":2080,"v":0.15},{"t":2088,"v":0.21},{"t":2096,"v":0.17},{"t":2105,"v":0.24},{"t":2113,"v":0.28},{"t":2121,"v":0.26},{"t":2130,"v":0.30},{"t":2137,"v":0.25},{"t":2145,"v":0.27},{"t":2153,"v":0.26},{"t":2165,"v":0.255},{"t":2180,"v":0.25},{"t":2195,"v":0.26},{"t":2210,"v":0.25},{"t":2225,"v":0.255},{"t":2240,"v":0.25},{"t":2250,"v":0.27},{"t":2265,"v":0.32},{"t":2275,"v":0.28},{"t":2285,"v":0.26},{"t":2297,"v":0.25},{"t":2305,"v":0.29},{"t":2315,"v":0.33},{"t":2322,"v":0.27},{"t":2330,"v":0.25},{"t":2340,"v":0.27},{"t":2350,"v":0.21},{"t":2360,"v":0.24},{"t":2370,"v":0.19},{"t":2380,"v":0.22},{"t":2390,"v":0.17},{"t":2400,"v":0.19},{"t":2410,"v":0.15},{"t":2418,"v":0.14},{"t":2425,"v":0.13},{"t":2433,"v":0.22},{"t":2442,"v":0.36},{"t":2450,"v":0.30},{"t":2460,"v":0.32},{"t":2470,"v":0.30},{"t":2480,"v":0.33},{"t":2490,"v":0.32},{"t":2500,"v":0.34},{"t":2510,"v":0.33},{"t":2520,"v":0.35},{"t":2530,"v":0.34},{"t":2540,"v":0.36},{"t":2550,"v":0.35},{"t":2560,"v":0.37},{"t":2572,"v":0.35},{"t":2585,"v":0.37},{"t":2597,"v":0.36},{"t":2607,"v":0.38},{"t":2617,"v":0.37},{"t":2625,"v":0.39},{"t":2638,"v":0.41},{"t":2645,"v":0.38},{"t":2655,"v":0.37},{"t":2665,"v":0.38},{"t":2675,"v":0.33},{"t":2685,"v":0.30},{"t":2692,"v":0.35},{"t":2700,"v":0.33},{"t":2708,"v":0.26},{"t":2716,"v":0.22},{"t":2724,"v":0.30},{"t":2732,"v":0.24},{"t":2740,"v":0.19},{"t":2748,"v":0.25},{"t":2756,"v":0.18},{"t":2764,"v":0.16},{"t":2772,"v":0.22},{"t":2780,"v":0.16},{"t":2790,"v":0.15},{"t":2798,"v":0.21},{"t":2806,"v":0.27},{"t":2814,"v":0.20},{"t":2822,"v":0.24},{"t":2830,"v":0.21},{"t":2838,"v":0.29},{"t":2846,"v":0.26},{"t":2854,"v":0.31},{"t":2862,"v":0.35},{"t":2870,"v":0.27},{"t":2878,"v":0.24},{"t":2886,"v":0.29},{"t":2895,"v":0.28},{"t":2905,"v":0.31},{"t":2915,"v":0.35},{"t":2925,"v":0.32},{"t":2935,"v":0.36},{"t":2945,"v":0.34},{"t":2955,"v":0.40},{"t":2965,"v":0.33},{"t":2972,"v":0.37},{"t":2979,"v":0.31},{"t":2986,"v":0.39},{"t":2994,"v":0.35},{"t":3002,"v":0.33},{"t":3010,"v":0.37},{"t":3018,"v":0.34},{"t":3027,"v":0.38},{"t":3035,"v":0.35},{"t":3042,"v":0.30},{"t":3050,"v":0.37},{"t":3058,"v":0.32},{"t":3066,"v":0.27},{"t":3074,"v":0.23},{"t":3082,"v":0.21},{"t":3090,"v":0.26},{"t":3098,"v":0.19},{"t":3106,"v":0.25},{"t":3114,"v":0.33},{"t":3122,"v":0.29},{"t":3130,"v":0.25},{"t":3138,"v":0.27},{"t":3146,"v":0.22},{"t":3154,"v":0.29},{"t":3162,"v":0.24},{"t":3170,"v":0.28},{"t":3178,"v":0.30},{"t":3186,"v":0.27},{"t":3194,"v":0.31},{"t":3202,"v":0.30},{"t":3210,"v":0.33},{"t":3218,"v":0.31},{"t":3226,"v":0.34},{"t":3234,"v":0.32},{"t":3242,"v":0.35},{"t":3250,"v":0.33},{"t":3258,"v":0.34},{"t":3266,"v":0.30},{"t":3274,"v":0.26},{"t":3282,"v":0.31},{"t":3290,"v":0.35},{"t":3298,"v":0.34},{"t":3306,"v":0.36},{"t":3314,"v":0.35},{"t":3322,"v":0.38},{"t":3332,"v":0.36},{"t":3340,"v":0.425},{"t":3348,"v":0.37},{"t":3356,"v":0.34},{"t":3364,"v":0.33},{"t":3372,"v":0.30},{"t":3380,"v":0.34},{"t":3390,"v":0.32},{"t":3400,"v":0.29},{"t":3410,"v":0.26},{"t":3418,"v":0.22},{"t":3425,"v":0.30},{"t":3432,"v":0.35},{"t":3440,"v":0.30},{"t":3448,"v":0.25},{"t":3456,"v":0.21},{"t":3464,"v":0.26},{"t":3472,"v":0.20},{"t":3480,"v":0.24},{"t":3490,"v":0.18},{"t":3500,"v":0.20},{"t":3510,"v":0.17},{"t":3520,"v":0.19},{"t":3530,"v":0.16},{"t":3540,"v":0.17},{"t":3548,"v":0.15},{"t":3556,"v":0.14},{"t":3564,"v":0.20},{"t":3572,"v":0.27},{"t":3580,"v":0.30},{"t":3588,"v":0.25},{"t":3596,"v":0.31},{"t":3604,"v":0.28},{"t":3612,"v":0.34},{"t":3620,"v":0.29},{"t":3628,"v":0.26},{"t":3636,"v":0.30},{"t":3644,"v":0.27},{"t":3652,"v":0.27}]
},
"columns": 2,
"spacing": {"row": 78, "column": 122},
"bounds": "flush",
"resolve": {"scale": {"color": "independent"}, "legend": {"color": "independent"}},
"concat": [
 {"title": "Grid 16 and 27", "width": 380, "height": 194,
  "layer": [
   {"data": {"name": "red"}, "mark": {"type": "line", "strokeWidth": 1},
    "encoding": {
     "x": {"field": "t", "type": "quantitative", "scale": {"domain": [0, 3652], "nice": false, "zero": false}, "axis": {"title": "Time daily 2006-2015", "values": [0,500,1000,1500,2000,2500,3000,3500]}},
     "y": {"field": "v", "type": "quantitative", "scale": {"domain": [0.1, 0.5], "nice": false, "zero": false}, "axis": {"title": "Soil moisture % (m³/m³)", "values": [0.1,0.2,0.3,0.4,0.5], "format": ".1f"}},
     "color": {"datum": "27", "type": "nominal", "scale": {"domain": ["27","16"], "range": ["#ff2020","#111111"]}}}},
   {"data": {"name": "g16"}, "mark": {"type": "line", "strokeWidth": 1.1},
    "encoding": {
     "x": {"field": "t", "type": "quantitative", "title": "Time daily 2006-2015"},
     "y": {"field": "v", "type": "quantitative", "title": "Soil moisture % (m³/m³)"},
     "color": {"datum": "16", "type": "nominal"}}},
   {"data": {"values": [{"lab": "a)"}]}, "mark": {"type": "text", "align": "left", "baseline": "alphabetic", "fontSize": 18, "color": "#1c1c2a", "font": "Open Sans"},
    "encoding": {"x": {"datum": 64}, "y": {"datum": 0.441}, "text": {"field": "lab"}}}
  ]},
 {"title": "Grid 28 and 27", "width": 380, "height": 194,
  "layer": [
   {"data": {"name": "red"}, "mark": {"type": "line", "strokeWidth": 1},
    "encoding": {
     "x": {"field": "t", "type": "quantitative", "scale": {"domain": [0, 3652], "nice": false, "zero": false}, "axis": {"title": "Time daily 2006-2015", "values": [0,500,1000,1500,2000,2500,3000,3500]}},
     "y": {"field": "v", "type": "quantitative", "scale": {"domain": [0.1, 0.5], "nice": false, "zero": false}, "axis": {"title": "Soil moisture % (m³/m³)", "values": [0.1,0.2,0.3,0.4,0.5], "format": ".1f"}},
     "color": {"datum": "27", "type": "nominal", "scale": {"domain": ["27","28"], "range": ["#ff2020","#111111"]}}}},
   {"data": {"name": "g28"}, "mark": {"type": "line", "strokeWidth": 1.1},
    "encoding": {
     "x": {"field": "t", "type": "quantitative", "title": "Time daily 2006-2015"},
     "y": {"field": "v", "type": "quantitative", "title": "Soil moisture % (m³/m³)"},
     "color": {"datum": "28", "type": "nominal"}}},
   {"data": {"values": [{"lab": "b)"}]}, "mark": {"type": "text", "align": "left", "baseline": "alphabetic", "fontSize": 18, "color": "#1c1c2a", "font": "Open Sans"},
    "encoding": {"x": {"datum": 100}, "y": {"datum": 0.441}, "text": {"field": "lab"}}}
  ]},
 {"title": "Grid 26 and 27", "width": 380, "height": 194,
  "layer": [
   {"data": {"name": "red"}, "mark": {"type": "line", "strokeWidth": 1},
    "encoding": {
     "x": {"field": "t", "type": "quantitative", "scale": {"domain": [0, 3652], "nice": false, "zero": false}, "axis": {"title": "Time daily 2006-2015", "values": [0,500,1000,1500,2000,2500,3000,3500]}},
     "y": {"field": "v", "type": "quantitative", "scale": {"domain": [0.1, 0.5], "nice": false, "zero": false}, "axis": {"title": "Soil moisture % (m³/m³)", "values": [0.1,0.2,0.3,0.4,0.5], "format": ".1f"}},
     "color": {"datum": "27", "type": "nominal", "scale": {"domain": ["27","26"], "range": ["#ff2020","#111111"]}}}},
   {"data": {"name": "g26"}, "mark": {"type": "line", "strokeWidth": 1.1},
    "encoding": {
     "x": {"field": "t", "type": "quantitative", "title": "Time daily 2006-2015"},
     "y": {"field": "v", "type": "quantitative", "title": "Soil moisture % (m³/m³)"},
     "color": {"datum": "26", "type": "nominal"}}},
   {"data": {"values": [{"lab": "c)"}]}, "mark": {"type": "text", "align": "left", "baseline": "alphabetic", "fontSize": 18, "color": "#1c1c2a", "font": "Open Sans"},
    "encoding": {"x": {"datum": 80}, "y": {"datum": 0.435}, "text": {"field": "lab"}}}
  ]},
 {"title": "Grid 37 and 27", "width": 380, "height": 194,
  "layer": [
   {"data": {"name": "red"}, "mark": {"type": "line", "strokeWidth": 1},
    "encoding": {
     "x": {"field": "t", "type": "quantitative", "scale": {"domain": [0, 3652], "nice": false, "zero": false}, "axis": {"title": "Time daily 2006-2015", "values": [0,500,1000,1500,2000,2500,3000,3500]}},
     "y": {"field": "v", "type": "quantitative", "scale": {"domain": [0.1, 0.5], "nice": false, "zero": false}, "axis": {"title": "Soil moisture % (m³/m³)", "values": [0.1,0.2,0.3,0.4,0.5], "format": ".1f"}},
     "color": {"datum": "27", "type": "nominal", "scale": {"domain": ["27","37"], "range": ["#ff2020","#111111"]}}}},
   {"data": {"name": "g37"}, "mark": {"type": "line", "strokeWidth": 1.1},
    "encoding": {
     "x": {"field": "t", "type": "quantitative", "title": "Time daily 2006-2015"},
     "y": {"field": "v", "type": "quantitative", "title": "Soil moisture % (m³/m³)"},
     "color": {"datum": "37", "type": "nominal"}}},
   {"data": {"values": [{"lab": "d)"}]}, "mark": {"type": "text", "align": "left", "baseline": "alphabetic", "fontSize": 18, "color": "#1c1c2a", "font": "Open Sans"},
    "encoding": {"x": {"datum": 100}, "y": {"datum": 0.435}, "text": {"field": "lab"}}}
  ]}
]
}
